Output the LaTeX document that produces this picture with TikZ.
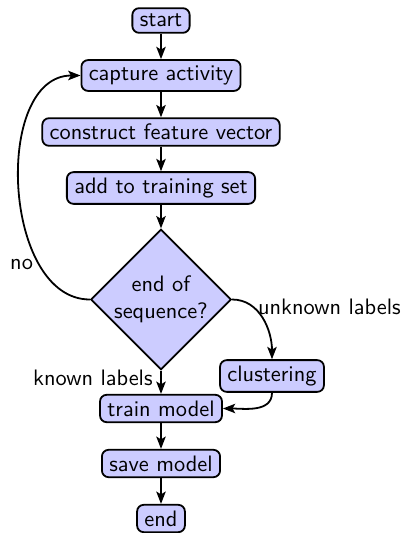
\documentclass[tikz,border=0pt]{standalone}
\usetikzlibrary{shapes.geometric,arrows.meta}
\begin{document}
\begin{tikzpicture}[x=0.4472pt,y=0.4472pt, font=\sffamily,
  blockbox/.style={draw, thick, fill=blue!20, rounded corners=3pt, inner xsep=3.3pt, inner ysep=2.6pt},
  decbox/.style={diamond, draw, thick, fill=blue!20, inner sep=0pt, align=center, aspect=1},
  arr/.style={thick, -{Stealth[length=5.5pt,width=4.2pt,inset=1.2pt]}}]
\useasboundingbox (0,0) rectangle (404,-533);
\node[blockbox] (start) at (161,-20.5) {start};
\node[blockbox] (capture) at (161,-75.5) {capture activity};
\node[blockbox] (construct) at (161,-132) {construct feature vector};
\node[blockbox] (add) at (161,-188) {add to training set};
\node[decbox] (dec) at (161,-299.5) {end of\\sequence?};
\node[blockbox] (clustering) at (272,-376) {clustering};
\node[blockbox] (train) at (161,-408.5) {train model};
\node[blockbox] (save) at (161,-463.5) {save model};
\node[blockbox] (finish) at (161,-518.5) {end};
\draw[arr] (start) -- (capture);
\draw[arr] (capture) -- (construct);
\draw[arr] (construct) -- (add);
\draw[arr] (add) -- (dec);
\draw[arr] (dec.west) to[out=180,in=180] node[pos=0.25,left,xshift=1pt] {no} (capture.west);
\draw[arr] (dec.east) to[out=0,in=90] node[pos=0.3,right,xshift=-1.5pt] {unknown labels} (clustering.north);
\draw[arr] (dec.south) -- node[pos=0.3,left] {known labels} (train);
\draw[arr] (clustering.south) to[out=-90,in=0] (train.east);
\draw[arr] (train) -- (save);
\draw[arr] (save) -- (finish);
\end{tikzpicture}
\end{document}
